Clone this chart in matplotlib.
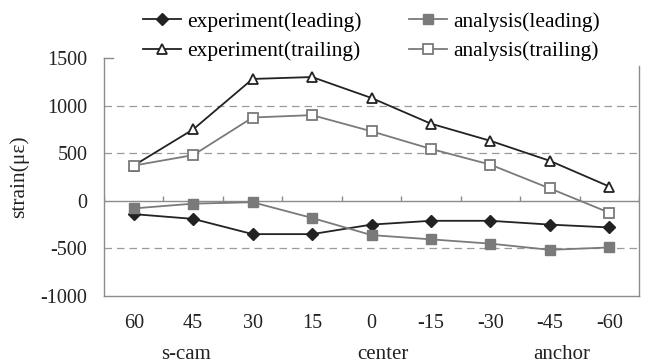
""" Strain along the strand: experiment vs analysis """

import matplotlib
matplotlib.use("Agg")
import matplotlib.pyplot as plt
import numpy as np

plt.rcParams["font.family"] = ["Liberation Serif", "DejaVu Serif"]

ANGLES = ["60", "45", "30", "15", "0", "-15", "-30", "-45", "-60"]

EXP_LEADING = [-140, -190, -350, -350, -250, -210, -210, -250, -280]
ANA_LEADING = [-80, -30, -15, -180, -360, -405, -450, -515, -490]
EXP_TRAILING = [370, 750, 1280, 1300, 1080, 810, 630, 420, 150]
ANA_TRAILING = [370, 480, 875, 900, 730, 545, 380, 130, -125]

REGIONS = ["s-cam", "center", "anchor"]

DARK = "#222222"
GREY = "#7a7a7a"
FRAME = "#8c8c8c"


def plot_data():
    fig = plt.figure(figsize=(6.47, 3.63), dpi=100)
    ax = fig.add_axes([104 / 647, 67 / 363, 535 / 647, 238 / 363])

    x = np.arange(len(ANGLES))

    # gridlines and zero axis
    for y in (1000, 500, -500):
        ax.axhline(y, color="#9a9a9a", lw=0.9, ls=(0, (6, 4)), zorder=1)
    ax.axhline(0, color=FRAME, lw=1.0, zorder=1)
    bounds = np.arange(len(ANGLES) + 1) - 0.5
    ax.vlines(bounds, 0, 55, color=FRAME, lw=1.0, zorder=1)

    ax.plot(x, EXP_LEADING, color=DARK, lw=1.3, marker="D", ms=6,
            mfc=DARK, mec=DARK, label="experiment(leading)", zorder=3)
    ax.plot(x, ANA_LEADING, color=GREY, lw=1.3, marker="s", ms=7,
            mfc=GREY, mec=GREY, label="analysis(leading)", zorder=3)
    ax.plot(x, EXP_TRAILING, color=DARK, lw=1.3, marker="^", ms=7,
            mfc="white", mec=DARK, mew=1.3, label="experiment(trailing)", zorder=3)
    ax.plot(x, ANA_TRAILING, color=GREY, lw=1.3, marker="s", ms=7,
            mfc="white", mec=GREY, mew=1.3, label="analysis(trailing)", zorder=3)

    ax.set_xlim(-0.5, len(ANGLES) - 0.5)
    ax.set_ylim(-1000, 1500)
    ax.set_yticks([1500, 1000, 500, 0, -500, -1000])
    ax.set_yticklabels(["1500", "1000", "500", "0", "-500", "-1000"])
    ax.set_xticks(x)
    ax.set_xticklabels(ANGLES)
    ax.tick_params(axis="both", length=0, labelsize=14.5, colors="#222222")
    ax.tick_params(axis="x", pad=13)
    ax.tick_params(axis="y", pad=12)
    for s in ax.spines.values():
        s.set_color(FRAME)
        s.set_linewidth(1.0)
    # the legend hides most of the top border in the original
    ax.spines["top"].set_bounds(-0.5, -0.35)
    ax.spines["right"].set_bounds(-1000, 1420)

    ax.set_ylabel("strain(\u03bc\u03b5)", fontsize=15.5, color="#222222", labelpad=8)

    # region labels under the angle labels
    region_pos = [0.88, 4.2, 7.2]
    for name, px in zip(REGIONS, region_pos):
        ax.text(px, -1610, name, ha="center", va="center", fontsize=15,
                color="#222222")

    h, l = ax.get_legend_handles_labels()
    order = [0, 2, 1, 3]
    fig.legend([h[i] for i in order], [l[i] for i in order],
               loc="upper left", bbox_to_anchor=(128 / 647, 1.01),
               ncol=2, fontsize=15.5, frameon=False, handlelength=1.75,
               handletextpad=0.3, columnspacing=2.2, labelspacing=0.45,
               borderpad=0.2)

    fig.savefig("out.png", dpi=100)


plot_data()
